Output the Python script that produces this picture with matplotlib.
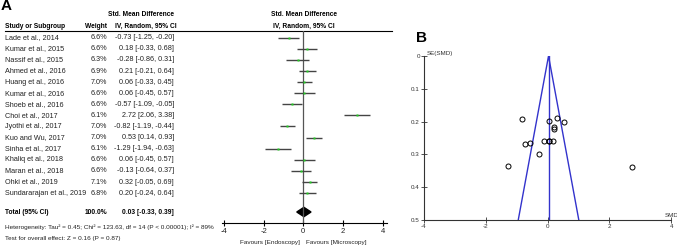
import matplotlib
matplotlib.use("Agg")
import matplotlib.pyplot as plt
from matplotlib.patches import Polygon

plt.rcParams['font.family'] = ['Liberation Sans', 'DejaVu Sans']
plt.rcParams['axes.unicode_minus'] = False

# Study data
studies = ["Lade et al., 2014", "Kumar et al., 2015", "Nassif et al., 2015", "Ahmed et al., 2016",
           "Huang et al., 2016", "Kumar et al., 2016", "Shoeb et al., 2016", "Choi et al., 2017",
           "Jyothi et al., 2017", "Kuo and Wu, 2017", "Sinha et al., 2017", "Khaliq et al., 2018",
           "Maran et al., 2018", "Ohki et al., 2019", "Sundararajan et al., 2019"]
weights = [6.6, 6.6, 6.3, 6.9, 7.0, 6.6, 6.6, 6.1, 7.0, 7.0, 6.1, 6.6, 6.6, 7.1, 6.8]
smd = [-0.73, 0.18, -0.28, 0.21, 0.06, 0.06, -0.57, 2.72, -0.82, 0.53, -1.29, 0.06, -0.13, 0.32, 0.20]
ci_low = [-1.25, -0.33, -0.86, -0.21, -0.33, -0.45, -1.09, 2.06, -1.19, 0.14, -1.94, -0.45, -0.64, -0.05, -0.24]
ci_high = [-0.20, 0.68, 0.31, 0.64, 0.45, 0.57, -0.05, 3.38, -0.44, 0.93, -0.63, 0.57, 0.37, 0.69, 0.64]
# standard errors for funnel plot
se = [0.268, 0.258, 0.298, 0.217, 0.199, 0.260, 0.265, 0.337, 0.191, 0.202, 0.334, 0.260, 0.258, 0.189, 0.224]

total_est, total_lo, total_hi = 0.03, -0.33, 0.39
heterogeneity = "Heterogeneity: Tau\u00b2 = 0.45; Chi\u00b2 = 123.63, df = 14 (P < 0.00001); I\u00b2 = 89%"
overall = "Test for overall effect: Z = 0.16 (P = 0.87)"

W, H = 677, 247
fig = plt.figure(figsize=(W / 100, H / 100), dpi=100)

# pixel-coordinate canvas for the table text
ax = fig.add_axes([0, 0, 1, 1])
ax.set_xlim(0, W)
ax.set_ylim(H, 0)
ax.axis('off')

row0, dy = 37.7, 11.1
fs = 5.2      # table rows
fh = 4.8      # bold headers
ff = 4.6      # footer notes
tc = '#222222'

ax.text(1, 6, "A", fontsize=11, fontweight='bold', va='center')
ax.text(416, 38, "B", fontsize=11, fontweight='bold', va='center')

ax.text(141, 14, "Std. Mean Difference", fontsize=fh, fontweight='bold', ha='center', va='center')
ax.text(304, 14, "Std. Mean Difference", fontsize=fh, fontweight='bold', ha='center', va='center')
ax.text(5, 26, "Study or Subgroup", fontsize=fh, fontweight='bold', va='center')
ax.text(107, 26, "Weight", fontsize=fh, fontweight='bold', ha='right', va='center')
ax.text(177, 26, "IV, Random, 95% CI", fontsize=fh, fontweight='bold', ha='right', va='center')
ax.text(304, 26, "IV, Random, 95% CI", fontsize=fh, fontweight='bold', ha='center', va='center')
ax.plot([5, 392], [31, 31], color='black', lw=0.8)

for i, name in enumerate(studies):
    y = row0 + dy * i
    ax.text(5, y, name, fontsize=fs, va='center', color=tc)
    ax.text(107, y, f"{weights[i]:.1f}%", fontsize=fs, ha='right', va='center', color=tc)
    ax.text(174, y, f"{smd[i]:.2f} [{ci_low[i]:.2f}, {ci_high[i]:.2f}]",
            fontsize=fs, ha='right', va='center', color=tc)

ax.text(5, 212, "Total (95% CI)", fontsize=fh, fontweight='bold', va='center')
ax.text(107, 212, "100.0%", fontsize=fh, fontweight='bold', ha='right', va='center')
ax.text(174, 212, f"{total_est:.2f} [{total_lo:.2f}, {total_hi:.2f}]",
        fontsize=fh, fontweight='bold', ha='right', va='center')
ax.text(5, 227, heterogeneity, fontsize=ff, va='center', color=tc)
ax.text(5, 238.5, overall, fontsize=ff, va='center', color=tc)
ax.text(300, 242, "Favours [Endoscopy]", fontsize=ff, ha='right', va='center', color=tc)
ax.text(306, 242, "Favours [Microscopy]", fontsize=ff, ha='left', va='center', color=tc)

# forest plot axes
x0px, scale = 303.3, 19.84
xl, xr = -4.12, 4.2
top_px, bot_px = 31, 223
axf = fig.add_axes([(x0px + xl * scale) / W, 1 - bot_px / H,
                    (xr - xl) * scale / W, (bot_px - top_px) / H])
axf.set_xlim(xl, xr)
axf.set_ylim((bot_px - row0) / dy, (top_px - row0) / dy)
axf.patch.set_alpha(0)
for s in ['left', 'right', 'top']:
    axf.spines[s].set_visible(False)
axf.spines['bottom'].set_linewidth(0.8)
axf.set_yticks([])
axf.set_xticks([-4, -2, 0, 2, 4])
axf.tick_params(axis='x', direction='inout', length=5, width=0.8, labelsize=5.5,
                labelcolor=tc, pad=1)
axf.axvline(0, color='#555555', lw=0.9)

rows = list(range(len(studies)))
axf.hlines(rows, ci_low, ci_high, color='#444444', lw=1.0)
axf.plot(smd, rows, 's', color='#22cc22', ms=2, mec='none')
ty = (212 - row0) / dy
h = 0.42
axf.add_patch(Polygon([(total_lo, ty), (total_est, ty - h), (total_hi, ty), (total_est, ty + h)],
                      closed=True, color='black'))

# funnel plot axes
bx0, bscale = 424, 30.9
by0, by1 = 56, 220
axb = fig.add_axes([bx0 / W, 1 - by1 / H, 8 * bscale / W, (by1 - by0) / H])
axb.set_xlim(-4, 4)
axb.set_ylim(0.5, 0)
axb.patch.set_alpha(0)
for s in ['right', 'top']:
    axb.spines[s].set_visible(False)
for s in ['left', 'bottom']:
    axb.spines[s].set_linewidth(0.8)
    axb.spines[s].set_color('#333333')
axb.set_xticks([-4, -2, 0, 2, 4])
axb.set_yticks([0, 0.1, 0.2, 0.3, 0.4, 0.5])
axb.set_yticklabels(["0", "0.1", "0.2", "0.3", "0.4", "0.5"])
axb.tick_params(axis='both', direction='inout', length=4, width=0.6, labelsize=4.5,
                colors='#333333', pad=1)

se_max = 0.5
axb.plot([total_est - 1.96 * se_max, total_est, total_est + 1.96 * se_max], [se_max, 0, se_max],
         color='#3333cc', lw=1.0)
axb.plot([total_est, total_est], [0, se_max], color='#3333cc', lw=1.0)
axb.plot(smd, se, 'o', mfc='none', mec='black', ms=3.6, mew=0.7)
axb.text(-3.9, 0, "SE(SMD)", fontsize=4.5, va='bottom', ha='left', color='#333333')
axb.text(4.0, 0.495, "SMD", fontsize=4.5, va='bottom', ha='center', color='#333333')

fig.savefig("out.png", dpi=100)
